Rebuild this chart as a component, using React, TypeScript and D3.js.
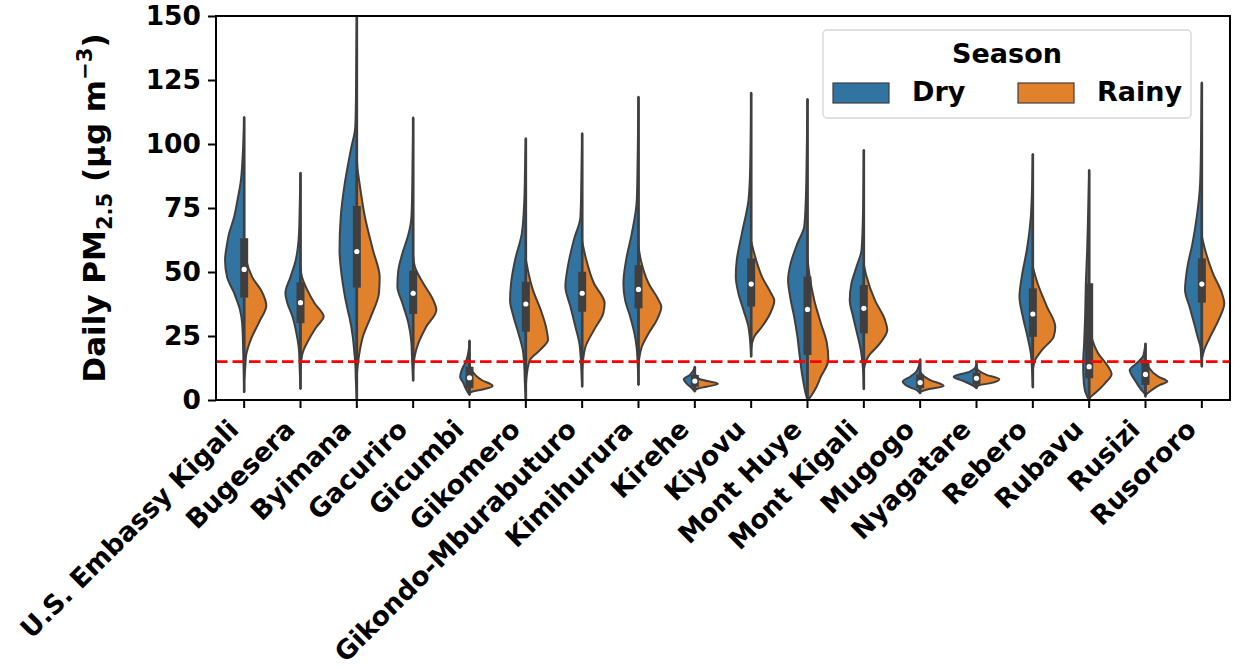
import React, { useEffect, useRef } from 'react';
import * as d3 from 'd3';

// estaciones (eje x)
const stations = [
  'U.S. Embassy Kigali', 'Bugesera', 'Byimana', 'Gacuriro', 'Gicumbi', 'Gikomero',
  'Gikondo-Mburabuturo', 'Kimihurura', 'Kirehe', 'Kiyovu', 'Mont Huye', 'Mont Kigali',
  'Mugogo', 'Nyagatare', 'Rebero', 'Rubavu', 'Rusizi', 'Rusororo'
];

const seasons = ['Dry', 'Rainy'];
const yTicks = [0, 25, 50, 75, 100, 125, 150];
const whoGuideline = 15;

// perfil de densidad de cada media violin: [PM2.5, densidad relativa]
const dryProfiles: [number, number][][] = [
  [[3, 0], [20, 1], [30, 2], [35, 4], [41.8, 10], [48, 17], [54.7, 19], [61, 17], [65, 15], [71.5, 10], [78, 6.7], [85, 3.5], [95, 1.5], [110.5, 0]],
  [[4.3, 0], [12, 0.8], [19.5, 1.5], [26, 4], [32.6, 8], [37.8, 13], [41.8, 15], [48, 10], [54.7, 4.7], [60, 2.5], [65, 1.5], [75, 0.8], [88.8, 0]],
  [[0, 0], [8, 1], [14.3, 1.5], [19.5, 2.7], [24.7, 4], [32.6, 7.5], [35, 9], [45.6, 14], [58.6, 17.2], [71.6, 16], [84.6, 12], [97.7, 6], [106.8, 1.5], [120, 0.8], [150, 0]],
  [[7.5, 0], [15, 1], [23.4, 2], [30, 4.7], [37.8, 10.7], [44.3, 15.7], [50.8, 14.7], [57.3, 10.7], [65, 4.5], [71.6, 1.7], [85, 0.8], [110.4, 0]],
  [[2, 0], [3.9, 3], [6.5, 6], [9.1, 9.3], [11.7, 7.7], [15.6, 3], [19, 1], [23.2, 0]],
  [[0, 0], [7, 1], [13, 1.5], [19.5, 3], [26, 7.3], [32.6, 12.3], [39, 15.7], [45.6, 14.7], [54.7, 10.7], [65, 4], [78, 1.5], [90, 0.8], [102.2, 0]],
  [[5.2, 0], [12, 0.8], [17, 1.5], [22, 2.7], [28.6, 6.7], [36.5, 11.7], [44.3, 16.7], [52, 14.3], [62.5, 8.3], [71.6, 1.7], [85, 0.8], [104.2, 0]],
  [[5.9, 0], [14, 0.8], [21, 2], [26, 4], [32.6, 8.3], [39, 13.3], [45.6, 15], [54.7, 12.3], [65, 6.7], [78, 1.7], [95, 0.8], [118.5, 0]],
  [[3.3, 0], [4.6, 3], [6.5, 8.3], [8.1, 11], [9.8, 5], [11.5, 1.5], [13, 0]],
  [[16.9, 0], [22, 0.8], [25, 1.5], [28.6, 2.7], [35.2, 7.7], [41.7, 12.7], [48.2, 15.3], [54.7, 14.3], [65, 9.3], [78, 2.7], [90, 1], [120, 0]],
  [[0, 0], [1.3, 1], [9.1, 5], [16.9, 7.7], [24.7, 10], [32.6, 13.3], [40.4, 17.3], [46.9, 19.3], [53.4, 16.7], [61.2, 10], [67.7, 3.3], [78, 1.7], [95, 0.8], [117.6, 0]],
  [[4.2, 0], [12, 0.8], [19.5, 3], [26, 6.7], [32.6, 10.7], [39, 14], [45.6, 12.3], [52, 7.3], [58.6, 2.3], [70, 1], [97.7, 0]],
  [[2.6, 0], [3.8, 3], [5.2, 11.7], [7.2, 17.3], [9.1, 10], [11, 4], [13, 1.5], [15.9, 0]],
  [[4.6, 0], [5.5, 3], [7.2, 11.7], [9.1, 22.7], [11.1, 6.7], [12.5, 1.5], [14.3, 0]],
  [[4.9, 0], [12, 0.8], [18.2, 2], [24.7, 5.3], [32.6, 10], [40.4, 13.3], [48.2, 11], [58.6, 6], [71.6, 2], [80, 1], [96.1, 0]],
  [[0, 0], [1.3, 2], [6.5, 5.3], [14.3, 6], [22.1, 5], [32.6, 4], [45.6, 3.3], [58.6, 2], [70, 1.2], [89.8, 0]],
  [[1.3, 0], [2.5, 1], [3.9, 4], [7.8, 10.7], [11.7, 15.7], [14.3, 9], [17, 2.5], [19.5, 1], [22.1, 0]],
  [[13, 0], [18, 0.8], [21, 1.5], [23.4, 3.3], [30, 7.7], [36.5, 12.3], [43, 16.7], [52, 14.3], [61.2, 9.3], [71.6, 5], [84.6, 1.7], [100, 0.8], [124, 0]]
];

const rainyProfiles: [number, number][][] = [
  [[8, 0], [12.5, 1], [17.6, 2], [24, 7], [30.5, 15], [36.9, 22], [42, 18], [48, 8], [54.7, 2], [58, 0.8], [62, 0]],
  [[12, 0], [18.2, 2], [23.4, 8], [28.6, 16], [32.6, 23], [37.8, 14], [43, 6.7], [48, 1.5], [52, 0]],
  [[10, 0], [17, 2], [24.7, 6], [32.6, 14], [41.8, 22], [48, 22.7], [58.6, 16], [71.6, 8], [84.6, 2.7], [90, 0.8], [95, 0]],
  [[12, 0], [18, 2], [22, 5], [28.6, 13], [35.2, 23], [39, 20], [45.6, 10], [52, 1.7], [56, 0]],
  [[2.5, 0], [3.3, 3], [4.2, 14], [5.5, 23], [7.8, 12], [11.7, 2], [14, 0]],
  [[5, 0], [10, 1], [15.6, 4], [19.5, 14], [23.4, 22], [28.6, 20], [35, 15], [43, 7], [49.5, 2.7], [55, 0]],
  [[12, 0], [16, 1], [20.8, 3.3], [27.3, 11.7], [33.9, 21], [37.8, 22.3], [45.6, 11.7], [56, 3.3], [62, 0]],
  [[14, 0], [17, 1], [20.8, 3.3], [26, 10], [31.3, 18.3], [36.5, 22.7], [39, 20], [45.6, 10], [54.7, 2.3], [60, 0]],
  [[3.8, 0], [4.5, 3], [5.2, 11.7], [6.3, 23], [8.1, 5], [9.5, 1], [10.5, 0]],
  [[20, 0], [24.7, 3], [28.6, 10.7], [33.9, 19], [39, 23], [41.7, 19.7], [48.2, 10.7], [57.3, 3], [62, 0]],
  [[0, 0], [0.8, 2], [3.9, 7.3], [9.1, 13.3], [15.6, 20.7], [22.1, 19.3], [30, 13.3], [39, 6.7], [49.5, 1.7], [55, 0]],
  [[12, 0], [16.9, 4.3], [22.1, 16], [27.3, 23.3], [31.3, 21], [39, 11], [48.2, 2.7], [53, 0]],
  [[3.2, 0], [4.2, 8], [5.5, 23.3], [7.8, 10], [9.5, 3], [11, 0]],
  [[5, 0], [5.8, 3], [6.5, 13], [8.1, 22.7], [9.8, 10], [11.5, 2], [12.5, 0]],
  [[12, 0], [15.6, 2.3], [19.5, 9], [24.7, 20.7], [28.6, 22.3], [36.5, 14], [45.6, 4.7], [52, 0]],
  [[0, 0], [1, 1], [2.6, 5.7], [6.5, 15.7], [10.2, 22.3], [13, 19], [18.2, 9], [24.7, 2.3], [30, 0]],
  [[1.8, 0], [3.3, 4.3], [5.9, 14.3], [7.2, 21.7], [9.1, 12.7], [13, 2.7], [16, 0]],
  [[16, 0], [19.5, 2.3], [24.7, 8.3], [31.3, 16.7], [37.8, 22.3], [41.7, 20], [49.5, 11], [58.6, 3.3], [64, 0]]
];

// caja interna (ambas estaciones juntas)
const boxQ1 = [40, 30, 43.9, 33.6, 4.6, 26.7, 34.5, 35.8, 5.2, 36.5, 17.6, 26, 4.6, 6, 24.7, 8.5, 5.9, 38];
const boxMedian = [51, 38, 58, 41.7, 8.7, 37.5, 41.7, 43.2, 7.4, 45.3, 35.4, 35.8, 6.8, 8.5, 33.6, 13, 10, 45.3];
const boxQ3 = [63.2, 46, 75.8, 50.5, 13, 46.2, 50.1, 52.7, 9.8, 55.3, 48.2, 44.9, 10, 10.7, 43.6, 45.6, 15.6, 55.3];
const whiskerLow = [3, 4.3, 0, 7.5, 2, 0, 5.2, 5.9, 3.3, 16.9, 0, 4.2, 2.6, 4.6, 4.9, 0, 1.3, 13];
const whiskerHigh = [110.5, 88.8, 150, 110.4, 23.2, 102.2, 104.2, 118.5, 13, 120, 117.6, 97.7, 15.9, 14.3, 96.1, 89.8, 22.1, 124];

const App = () => {
  const svgRef = useRef<SVGSVGElement>(null);

  useEffect(() => {
    const svg = d3.select(svgRef.current);
    svg.selectAll('*').remove();

    const width = 1233;
    const height = 668;
    const plot = { left: 216, right: 1230, top: 16, bottom: 400 };
    const font = 'DejaVu Sans, sans-serif';
    const gray = '#3f3f3f';
    const colors = { Dry: '#3274a1', Rainy: '#e1812c' };

    svg.attr('width', width).attr('height', height);

    const x = d3.scaleBand().domain(stations).range([plot.left, plot.right]).padding(0);
    const y = d3.scaleLinear().domain([0, 150]).range([plot.bottom, plot.top]);
    const w = d3.scaleLinear().domain([0, 28]).range([0, x.bandwidth() / 2]);

    svg.append('defs').append('clipPath').attr('id', 'plotClip')
      .append('rect')
      .attr('x', plot.left).attr('y', plot.top)
      .attr('width', plot.right - plot.left).attr('height', plot.bottom - plot.top);

    const g = svg.append('g').attr('clip-path', 'url(#plotClip)');

    stations.forEach((s, i) => {
      const cx = x(s)! + x.bandwidth() / 2;

      const dryArea = d3.area<[number, number]>()
        .y(d => y(d[0]))
        .x0(cx)
        .x1(d => cx - w(d[1]))
        .curve(d3.curveMonotoneY);
      const rainyArea = d3.area<[number, number]>()
        .y(d => y(d[0]))
        .x0(cx)
        .x1(d => cx + w(d[1]))
        .curve(d3.curveMonotoneY);

      g.append('path')
        .attr('d', dryArea(dryProfiles[i]))
        .attr('fill', colors.Dry)
        .attr('stroke', gray)
        .attr('stroke-width', 2)
        .attr('stroke-linejoin', 'round');
      g.append('path')
        .attr('d', rainyArea(rainyProfiles[i]))
        .attr('fill', colors.Rainy)
        .attr('stroke', gray)
        .attr('stroke-width', 2)
        .attr('stroke-linejoin', 'round');

      // bigotes
      g.append('line')
        .attr('x1', cx).attr('x2', cx)
        .attr('y1', y(whiskerLow[i])).attr('y2', y(whiskerHigh[i]))
        .attr('stroke', gray)
        .attr('stroke-width', 2.6);

      // caja
      g.append('rect')
        .attr('x', cx - 4)
        .attr('width', 8)
        .attr('y', y(boxQ3[i]))
        .attr('height', y(boxQ1[i]) - y(boxQ3[i]))
        .attr('fill', gray);

      g.append('circle')
        .attr('cx', cx)
        .attr('cy', y(boxMedian[i]))
        .attr('r', 2.6)
        .attr('fill', 'white');
    });

    // línea guía OMS
    svg.append('line')
      .attr('x1', plot.left).attr('x2', plot.right)
      .attr('y1', y(whoGuideline)).attr('y2', y(whoGuideline))
      .attr('stroke', '#ff0000')
      .attr('stroke-width', 2.6)
      .attr('stroke-dasharray', '11.5,5');

    // Ejes
    const yAxis = svg.append('g')
      .attr('transform', `translate(${plot.left},0)`)
      .call(d3.axisLeft(y).tickValues(yTicks).tickSize(8).tickPadding(7));
    yAxis.select('.domain').remove();
    yAxis.selectAll('line').attr('stroke', 'black').attr('stroke-width', 2);
    yAxis.selectAll('text')
      .style('font-family', font)
      .style('font-weight', 'bold')
      .style('font-size', '26.5px')
      .attr('fill', 'black');

    const xAxis = svg.append('g')
      .attr('transform', `translate(0,${plot.bottom})`)
      .call(d3.axisBottom(x).tickSize(8).tickPadding(6));
    xAxis.select('.domain').remove();
    xAxis.selectAll('line').attr('stroke', 'black').attr('stroke-width', 2);
    xAxis.selectAll('text')
      .style('font-family', font)
      .style('font-weight', 'bold')
      .style('font-size', '26.5px')
      .attr('fill', 'black')
      .attr('text-anchor', 'end')
      .attr('dy', null)
      .attr('y', null)
      .attr('transform', `translate(-4,31) rotate(-45)`);

    // marco
    svg.append('rect')
      .attr('x', plot.left).attr('y', plot.top)
      .attr('width', plot.right - plot.left).attr('height', plot.bottom - plot.top)
      .attr('fill', 'none')
      .attr('stroke', 'black')
      .attr('stroke-width', 2);

    // Etiqueta eje y
    const yLabel = svg.append('text')
      .attr('transform', `translate(105,${(plot.top + plot.bottom) / 2}) rotate(-90)`)
      .attr('text-anchor', 'middle')
      .style('font-family', font)
      .style('font-weight', 'bold')
      .style('font-size', '31px')
      .attr('fill', 'black');
    yLabel.append('tspan').text('Daily PM');
    yLabel.append('tspan').attr('dy', 7).style('font-size', '21px').text('2.5');
    yLabel.append('tspan').attr('dy', -7).text(' (µg m');
    yLabel.append('tspan').attr('dy', -13).style('font-size', '21px').text('−3');
    yLabel.append('tspan').attr('dy', 13).text(')');

    // Leyenda
    const legend = svg.append('g').attr('transform', 'translate(823,30)');
    legend.append('rect')
      .attr('width', 368).attr('height', 88)
      .attr('rx', 4)
      .attr('fill', 'white').attr('fill-opacity', 0.8)
      .attr('stroke', '#d6d6d6')
      .attr('stroke-width', 1.3);
    legend.append('text')
      .attr('x', 184).attr('y', 33)
      .attr('text-anchor', 'middle')
      .style('font-family', font)
      .style('font-weight', 'bold')
      .style('font-size', '27px')
      .text('Season');

    const legendX = d3.scalePoint().domain(seasons).range([10, 195]);
    seasons.forEach(s => {
      const lg = legend.append('g').attr('transform', `translate(${legendX(s)},53)`);
      lg.append('rect')
        .attr('width', 56).attr('height', 20)
        .attr('fill', colors[s as 'Dry' | 'Rainy'])
        .attr('stroke', gray)
        .attr('stroke-width', 1.2);
      lg.append('text')
        .attr('x', 79).attr('y', 18)
        .style('font-family', font)
        .style('font-weight', 'bold')
        .style('font-size', '27px')
        .text(s);
    });
  }, []);

  return (
    <div style={{ position: 'absolute', left: 0, top: 0 }}>
      <svg ref={svgRef} style={{ display: 'block', background: 'white' }} />
    </div>
  );
};

export default App;
